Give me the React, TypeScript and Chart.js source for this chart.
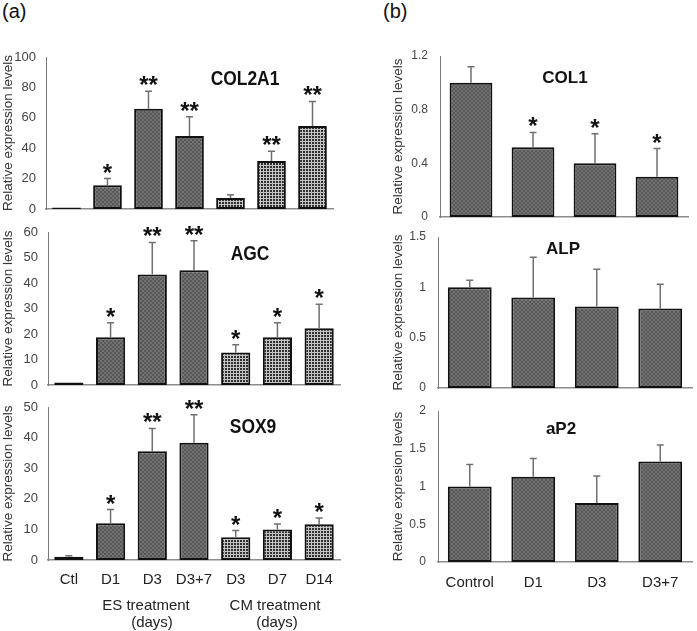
import React, { useEffect, useRef } from "react";
import { Chart, registerables } from "chart.js";

Chart.register(...registerables);

// ---------- data ----------
const aCategories = ["Ctl", "D1", "D3", "D3+7", "D3", "D7", "D14"];
const aKinds = ["es", "es", "es", "es", "cm", "cm", "cm"];

const col2a1Values = [1, 15.6, 66, 48, 7.2, 31.6, 54.6];
const col2a1Sd = [0, 4.4, 11.4, 12.7, 2.2, 6.4, 16.2];
const col2a1Stars = ["", "*", "**", "**", "", "**", "**"];
const col2a1Ticks = [0, 20, 40, 60, 80, 100];

const agcValues = [1, 18.7, 43.3, 45, 12.7, 18.7, 22.3];
const agcSd = [0, 5.7, 12.6, 11.6, 3.1, 5.7, 9.4];
const agcStars = ["", "*", "**", "**", "*", "*", "*"];
const agcTicks = [0, 10, 20, 30, 40, 50, 60];

const sox9Values = [1.1, 12, 35.5, 38.3, 7.4, 10, 11.7];
const sox9Sd = [0.3, 4.5, 7.5, 9.2, 2.2, 1.8, 2.0];
const sox9Stars = ["", "*", "**", "**", "*", "*", "*"];
const sox9Ticks = [0, 10, 20, 30, 40, 50];

const bCategories = ["Control", "D1", "D3", "D3+7"];
const bKinds = ["es", "es", "es", "es"];

const col1Values = [1.0, 0.52, 0.4, 0.3];
const col1Sd = [0.12, 0.11, 0.22, 0.21];
const col1Stars = ["", "*", "*", "*"];
const col1Ticks = [0, 0.4, 0.8, 1.2];

const alpValues = [1.0, 0.9, 0.81, 0.79];
const alpSd = [0.07, 0.4, 0.37, 0.24];
const alpStars = ["", "", "", ""];
const alpTicks = [0, 0.5, 1, 1.5];

const ap2Values = [1.0, 1.13, 0.78, 1.33];
const ap2Sd = [0.29, 0.24, 0.36, 0.22];
const ap2Stars = ["", "", "", ""];
const ap2Ticks = [0, 0.5, 1, 1.5, 2];

const yTitle = "Relative expression levels";
const yTitleAp2 = "Relative expresion levels";

const FONT = '"Liberation Sans", Arial, sans-serif';

function makePattern(ctx: CanvasRenderingContext2D, kind: string) {
  const c = document.createElement("canvas");
  const g = c.getContext("2d")!;
  if (kind === "es") {
    c.width = 4;
    c.height = 4;
    g.fillStyle = "#727272";
    g.fillRect(0, 0, 4, 4);
    g.fillStyle = "#585858";
    g.fillRect(0, 0, 2, 2);
    g.fillRect(2, 2, 2, 2);
  } else {
    c.width = 3;
    c.height = 3;
    g.fillStyle = "#c4c4c4";
    g.fillRect(0, 0, 3, 3);
    g.fillStyle = "#303030";
    g.fillRect(0, 0, 2, 2);
  }
  return ctx.createPattern(c, "repeat");
}

type Spec = {
  labels: string[];
  kinds: string[];
  values: number[];
  sd: number[];
  stars: string[];
  ticks: number[];
  yTitle: string;
  left: number;
  plotLeft: number;
  plotRight: number;
  plotTop: number;
  plotBottom: number;
  showX: boolean;
  tickFont: number;
  tickPad: number;
  titlePad: number;
  xPad: number;
  barPct: number;
};

const PAD = 14;
const XH = 40;

function BarPanel({ spec }: { spec: Spec }) {
  const ref = useRef<HTMLCanvasElement>(null);
  const w = spec.plotRight + PAD - spec.left;
  const h = spec.plotBottom - spec.plotTop + PAD + (spec.showX ? XH : PAD);

  useEffect(() => {
    const ctx = ref.current!.getContext("2d")!;
    const pats: Record<string, any> = {
      es: makePattern(ctx, "es"),
      cm: makePattern(ctx, "cm"),
    };
    const errPlugin = {
      id: "errbars",
      afterDatasetsDraw(chart: any) {
        const c = chart.ctx;
        const meta = chart.getDatasetMeta(0);
        const ys = chart.scales.y;
        c.save();
        meta.data.forEach((el: any, i: number) => {
          const v = spec.values[i];
          const s = spec.sd[i];
          const x = el.x;
          const yv = ys.getPixelForValue(v);
          const ye = ys.getPixelForValue(v + s);
          if (s > 0) {
            c.strokeStyle = "#707070";
            c.lineWidth = 1.5;
            c.beginPath();
            c.moveTo(x, yv);
            c.lineTo(x, ye);
            c.moveTo(x - 3.5, ye);
            c.lineTo(x + 3.5, ye);
            c.stroke();
          }
          if (spec.stars[i]) {
            c.fillStyle = "#111";
            c.font = `bold 24px ${FONT}`;
            c.textAlign = "center";
            c.textBaseline = "alphabetic";
            c.fillText(spec.stars[i], x, ye + 2);
          }
        });
        c.restore();
      },
    };
    const chart = new Chart(ctx, {
      type: "bar",
      data: {
        labels: spec.labels,
        datasets: [
          {
            data: spec.values,
            backgroundColor: spec.kinds.map((k) => pats[k]),
            borderColor: "#111",
            borderWidth: 2,
            borderSkipped: false,
            barPercentage: spec.barPct,
            categoryPercentage: 1,
          },
        ],
      },
      options: {
        animation: false,
        responsive: false,
        maintainAspectRatio: false,
        events: [],
        layout: {
          padding: { left: 0, top: PAD, right: PAD, bottom: spec.showX ? 0 : PAD },
        },
        plugins: {
          legend: { display: false },
          tooltip: { enabled: false },
          title: { display: false },
        },
        scales: {
          x: {
            grid: { display: false, drawTicks: false },
            border: { display: true, color: "#8c8c8c", width: 1.5 },
            ticks: {
              display: spec.showX,
              font: { family: FONT, size: 15 },
              color: "#222",
              padding: spec.xPad,
              autoSkip: false,
              maxRotation: 0,
            },
            afterFit: (s: any) => {
              s.height = spec.showX ? XH : 0;
              s.paddingLeft = 0;
              s.paddingRight = 0;
            },
          },
          y: {
            min: 0,
            max: spec.ticks[spec.ticks.length - 1],
            grid: { display: false, drawTicks: false },
            border: { display: true, color: "#7a7a7a", width: 1 },
            ticks: {
              font: { family: FONT, size: spec.tickFont },
              color: "#444",
              padding: spec.tickPad,
              callback: (v: any) => String(Number(Number(v).toFixed(2))),
            },
            afterBuildTicks: (s: any) => {
              s.ticks = spec.ticks.map((v) => ({ value: v }));
            },
            afterFit: (s: any) => {
              s.width = spec.plotLeft - spec.left;
              s.paddingTop = 0;
              s.paddingBottom = 0;
            },
            title: {
              display: true,
              text: spec.yTitle,
              font: { family: FONT, size: 13.5 },
              color: "#333",
              padding: { top: spec.titlePad, bottom: 0 },
            },
          },
        },
      } as any,
      plugins: [errPlugin],
    });
    return () => chart.destroy();
  }, []);

  return (
    <canvas
      ref={ref}
      width={w}
      height={h}
      style={{
        position: "absolute",
        left: spec.left,
        top: spec.plotTop - PAD,
        width: w,
        height: h,
      }}
    />
  );
}

const specs: Spec[] = [
  {
    labels: aCategories, kinds: aKinds, values: col2a1Values, sd: col2a1Sd, stars: col2a1Stars,
    ticks: col2a1Ticks, yTitle, left: 0, plotLeft: 46, plotRight: 333, plotTop: 57, plotBottom: 209,
    showX: false, tickFont: 13, tickPad: 10, titlePad: 0, xPad: 10, barPct: 0.7,
  },
  {
    labels: aCategories, kinds: aKinds, values: agcValues, sd: agcSd, stars: agcStars,
    ticks: agcTicks, yTitle, left: 0, plotLeft: 48, plotRight: 340, plotTop: 232, plotBottom: 385,
    showX: false, tickFont: 13, tickPad: 10, titlePad: 0, xPad: 10, barPct: 0.7,
  },
  {
    labels: aCategories, kinds: aKinds, values: sox9Values, sd: sox9Sd, stars: sox9Stars,
    ticks: sox9Ticks, yTitle, left: 0, plotLeft: 48, plotRight: 340, plotTop: 407, plotBottom: 560,
    showX: true, tickFont: 13, tickPad: 10, titlePad: 0, xPad: 11, barPct: 0.7,
  },
  {
    labels: bCategories, kinds: bKinds, values: col1Values, sd: col1Sd, stars: col1Stars,
    ticks: col1Ticks, yTitle, left: 383, plotLeft: 440, plotRight: 688, plotTop: 56, plotBottom: 217,
    showX: false, tickFont: 12, tickPad: 12, titlePad: 7, xPad: 12, barPct: 0.69,
  },
  {
    labels: bCategories, kinds: bKinds, values: alpValues, sd: alpSd, stars: alpStars,
    ticks: alpTicks, yTitle, left: 383, plotLeft: 438, plotRight: 692, plotTop: 237, plotBottom: 388,
    showX: false, tickFont: 12, tickPad: 12, titlePad: 7, xPad: 12, barPct: 0.69,
  },
  {
    labels: bCategories, kinds: bKinds, values: ap2Values, sd: ap2Sd, stars: ap2Stars,
    ticks: ap2Ticks, yTitle: yTitleAp2, left: 383, plotLeft: 438, plotRight: 692, plotTop: 411, plotBottom: 562,
    showX: true, tickFont: 12, tickPad: 12, titlePad: 7, xPad: 12, barPct: 0.69,
  },
];

const geneTitles = [
  { text: "COL2A1", x: 245, y: 78, size: 20, sx: 0.87 },
  { text: "AGC", x: 250, y: 253, size: 20, sx: 0.87 },
  { text: "SOX9", x: 253, y: 426, size: 20, sx: 0.87 },
  { text: "COL1", x: 565, y: 77, size: 17, sx: 1 },
  { text: "ALP", x: 563, y: 248, size: 17, sx: 1 },
  { text: "aP2", x: 561, y: 428, size: 17, sx: 1 },
];

const groupLabels = [
  { text: "ES treatment", x: 146, y: 604 },
  { text: "(days)", x: 152, y: 621 },
  { text: "CM treatment", x: 275, y: 604 },
  { text: "(days)", x: 277, y: 621 },
];

export default function App() {
  return (
    <div
      style={{
        position: "absolute",
        left: 0,
        top: 0,
        width: 697,
        height: 631,
        background: "#fff",
        fontFamily: FONT,
        color: "#111",
        overflow: "hidden",
      }}
    >
      {specs.map((s, i) => (
        <BarPanel key={i} spec={s} />
      ))}
      <div style={{ position: "absolute", left: 2, top: 0, fontSize: 20, lineHeight: "22px" }}>(a)</div>
      <div style={{ position: "absolute", left: 383, top: 0, fontSize: 20, lineHeight: "22px" }}>(b)</div>
      {geneTitles.map((t, i) => (
        <div
          key={"t" + i}
          style={{
            position: "absolute",
            left: t.x,
            top: t.y,
            fontSize: t.size,
            fontWeight: "bold",
            lineHeight: 1,
            whiteSpace: "nowrap",
            transform: `translate(-50%, -50%) scaleX(${t.sx})`,
          }}
        >
          {t.text}
        </div>
      ))}
      {groupLabels.map((t, i) => (
        <div
          key={"g" + i}
          style={{
            position: "absolute",
            left: t.x,
            top: t.y,
            fontSize: 15,
            lineHeight: 1,
            color: "#222",
            whiteSpace: "nowrap",
            transform: "translate(-50%, -50%)",
          }}
        >
          {t.text}
        </div>
      ))}
    </div>
  );
}
